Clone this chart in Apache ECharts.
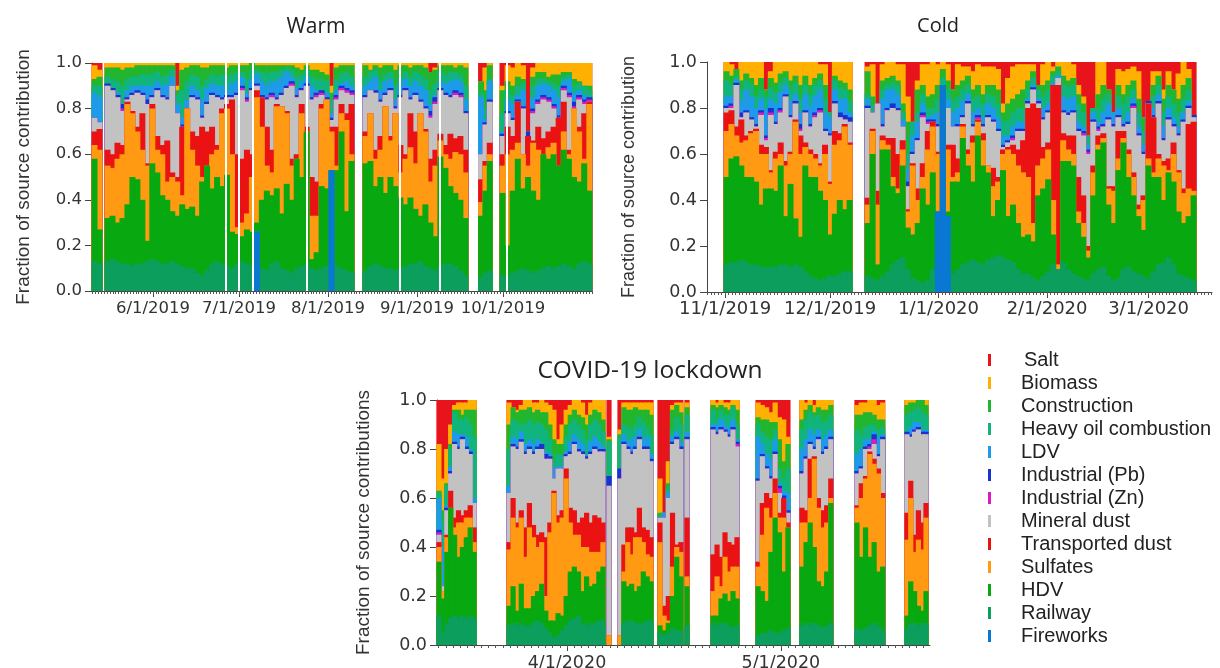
<!DOCTYPE html>
<html><head><meta charset="utf-8"><style>html,body{margin:0;padding:0;background:#fff}#c{width:1220px;height:668px;filter:blur(0.55px)}</style>
<script src="https://cdn.jsdelivr.net/npm/echarts@6/dist/echarts.min.js"></script></head><body><div id="c"></div>
<script>
const legendNames=['Salt','Biomass','Construction','Heavy oil combustion','LDV','Industrial (Pb)','Industrial (Zn)','Mineral dust','Transported dust','Sulfates','HDV','Railway','Fireworks'];
const seriesColors={'Salt':'#e8141c','Biomass':'#ffb000','Construction':'#22b52e','Heavy oil combustion':'#10b47c','LDV':'#1e9be8','Industrial (Pb)':'#1c2fd0','Industrial (Zn)':'#d81cc0','Mineral dust':'#c2c2c2','Transported dust':'#ea1212','Sulfates':'#ff9a12','HDV':'#08a810','Railway':'#0c9e5c','Fireworks':'#0a78d2'};

// ---- Warm ----
const warmSegments=[['2019-05-10T18:00','2019-05-14T06:00',2],['2019-05-15T07:00','2019-08-10T01:00',50],['2019-08-13T04:00','2019-09-18T18:00',21],['2019-09-22T14:00','2019-09-27T03:00',3],['2019-09-29T22:00','2019-10-31T23:00',18]];
const warmThinGaps=['2019-06-26T10:00','2019-07-01T00:00','2019-07-05T20:00','2019-07-24T16:00','2019-08-25T22:00','2019-09-08T19:00','2019-10-02T07:00'];
const warmTicks=['2019-06-01T00:00','2019-07-01T00:00','2019-08-01T00:00','2019-09-01T00:00','2019-10-01T00:00'];
const warmFireworks=[[32,26],[47,53]];
const warmRail=[13,12,
13,14,13,12,12,11,12,12,13,14,13,12,12,13,12,11,10,10,8,7,9,12,13,12,11,10,12,13,12,11,12,10,9,12,13,10,9,8,10,11,12,10,9,10,11,12,11,10,9,8,
9,11,12,11,10,10,9,10,11,12,12,13,11,10,9,11,12,12,11,9,7,
6,8,9,
7,6,8,9,10,9,8,9,10,11,10,11,12,11,10,12,13,12];
const warmHdv=[58,27,
32,33,30,32,38,50,49,40,22,56,52,42,40,35,33,38,36,37,33,48,62,45,50,46,51,26,25,24,27,26,30,40,44,42,45,34,47,40,64,50,70,14,17,46,45,42,53,70,35,57,
56,57,46,50,43,50,46,41,38,41,36,33,38,30,24,59,54,46,43,40,32,
33,44,57,
43,20,44,58,45,50,44,40,60,58,60,55,62,58,50,48,56,44];
const warmSulf=[64,62,
55,54,58,60,82,78,70,62,55,80,62,60,48,50,48,42,82,62,55,50,55,60,62,78,80,60,28,30,34,50,85,72,55,52,81,81,78,55,58,78,70,33,33,80,88,70,55,78,75,60,
68,78,58,62,81,66,78,52,58,63,56,78,70,48,55,66,60,58,61,60,52,
39,55,60,
55,60,62,65,82,55,65,62,60,63,65,55,70,60,82,70,58,82];
const warmTrans=[70,71,
62,60,65,64,83,79,72,78,56,82,68,64,66,52,50,83,84,70,68,72,70,72,64,80,82,84,60,58,62,60,88,85,72,62,82,81,79,58,60,82,72,50,48,82,90,72,72,82,78,82,
70,78,62,68,81,68,78,64,60,78,70,78,71,58,62,69,64,69,67,68,62,
49,57,65,
60,72,68,83,60,68,66,72,67,70,72,76,83,62,84,72,78,83];
const warmMineral=[76,74,
90,88,85,79,84,86,87,86,82,85,88,85,84,90,78,72,80,85,84,76,82,86,85,84,85,85,86,88,83,88,90,85,84,85,84,86,89,90,85,88,90,84,85,86,84,75,84,88,87,86,
85,88,87,83,86,88,80,85,88,84,86,83,80,76,82,88,86,85,86,85,78,
60,73,83,
68,78,75,83,80,73,78,82,84,83,80,76,88,85,80,84,82,83];
const warmZn=[0,0,
0,0,0,1,0,0,0,0,0,0,0,0,0,0,0,0,0,0,0,0,0,0,0,0,0,0,0,1,1,0,0,0,0,1,0,0,0,1,0,0,0,0,1,1,0,0,1,1,1,1,
0,0,0,0,0,0,0,0,0,0,0,0,0,1,1,0,0,0,1,1,0,
0,0,0,
0,0,0,0,0,0,1,1,1,1,1,0,1,1,1,1,1,1];
const warmPb=[0,0,
1,1,1,2,1,1,1,1,2,1,1,1,1,0,0,1,0,1,1,1,1,1,1,1,1,1,1,1,1,1,1,1,1,1,1,1,1,1,1,1,1,1,1,1,1,1,1,1,1,1,
1,0,1,1,1,1,1,1,1,1,1,1,1,2,2,1,1,1,1,1,1,
0,1,1,
1,1,1,1,1,2,1,1,1,1,1,1,1,1,2,1,1,1];
const warmLdv=[87,85,
91,88,87,82,88,90,90,90,90,90,92,90,91,94,82,76,84,90,88,84,89,91,90,90,88,91,92,94,87,93,95,92,90,92,92,94,96,94,89,92,94,90,88,88,87,78,88,91,92,90,
90,92,94,88,92,93,84,91,93,90,92,90,88,82,86,92,91,92,93,92,84,
85,75,92,
70,84,82,86,88,82,85,90,91,90,88,85,92,93,87,88,86,84];
const warmHeavy=[90,90,
94,93,92,90,93,94,94,95,95,95,96,94,95,97,86,88,92,95,94,90,93,95,94,95,94,95,96,96,93,97,97,96,95,96,96,97,98,97,94,95,97,94,93,93,92,84,93,95,96,94,
94,96,97,92,95,96,90,94,96,94,96,95,93,88,91,96,95,96,96,95,90,
87,80,93,
78,88,86,90,91,86,90,93,93,92,91,90,94,95,90,91,90,88];
const warmConstr=[93,94,
98,98,98,97,98,98,99,99,99,99,99,99,99,99,88,97,98,99,99,98,98,99,99,99,98,99,99,99,99,100,99,99,99,99,99,99,99,99,98,97,99,97,97,96,95,87,98,99,99,99,
99,97,99,98,99,99,97,99,99,98,99,99,98,96,97,99,99,99,98,99,98,
92,88,99,
88,92,90,94,93,91,94,96,96,94,95,95,96,96,93,92,90,90];
const warmBiomass=[99,97,
100,100,100,100,100,100,100,100,100,100,100,100,100,100,90,100,100,100,100,100,100,100,100,100,100,100,100,100,100,100,100,100,100,100,100,100,100,100,100,100,100,100,100,100,100,90,100,100,100,100,
100,100,100,100,100,100,100,100,100,100,100,100,100,96,98,100,100,100,100,100,100,
92,98,100,
90,99,98,100,99,68,98,100,100,100,100,100,100,100,100,100,100,100];

// ---- Cold ----
const coldSegments=[['2019-10-31T17:00','2019-12-07T07:00',26],['2019-12-11T00:00','2020-03-14T14:00',66]];
const coldTicks=['2019-11-01T00:00','2019-12-01T00:00','2020-01-01T00:00','2020-02-01T00:00','2020-03-01T00:00'];
const coldFireworks=[[40,35],[41,90],[42,33]];
const coldRail=[12,13,13,14,13,12,12,11,11,11,11,12,12,11,12,11,9,7,6,5,6,7,7,8,9,9,
7,6,5,7,9,12,14,15,10,6,5,4,5,10,0,0,0,8,10,12,13,14,13,12,14,15,16,15,14,13,10,8,8,6,5,7,9,12,14,13,10,8,7,6,5,8,10,11,7,5,6,10,11,9,8,7,6,9,12,13,15,12,8,7,6,5];
const coldHdv=[50,58,59,55,50,50,48,38,45,45,44,55,33,47,32,24,55,50,50,44,40,25,34,40,36,40,
30,60,12,62,62,46,43,55,28,25,30,45,38,52,35,90,35,48,48,67,55,48,68,55,52,33,40,53,33,38,30,24,25,22,42,45,49,25,10,57,57,55,30,24,15,42,62,65,38,30,53,65,50,42,33,27,55,50,50,40,52,48,35,30,33,42];
const coldSulf=[70,73,68,65,66,69,70,60,60,52,58,60,55,60,74,60,63,60,58,55,60,47,64,66,72,64,
38,70,38,66,64,50,45,62,35,55,40,50,62,72,60,60,62,50,52,72,60,65,74,66,55,46,48,60,62,60,55,52,50,30,55,58,62,40,12,66,62,60,35,30,18,52,64,67,45,44,58,67,60,50,36,40,58,52,58,55,53,60,52,43,45,44];
const coldTrans=[78,79,72,75,68,70,71,64,63,53,61,65,57,61,75,68,65,62,60,56,64,48,70,69,73,65,
41,71,44,68,67,67,60,66,36,56,45,56,70,75,61,62,64,64,58,73,62,68,75,69,55,54,50,62,63,64,62,66,80,82,80,63,65,90,90,69,68,68,50,42,20,55,68,69,46,46,70,70,62,52,38,42,85,80,60,57,58,65,53,45,73,74];
const coldMineral=[80,80,90,76,78,75,72,77,66,77,73,78,85,76,82,70,78,72,76,78,70,68,82,76,75,74,
80,78,90,72,79,80,79,72,46,60,66,76,73,74,72,85,80,72,72,76,82,72,75,72,76,74,70,63,65,66,70,70,82,88,82,75,78,90,93,78,77,78,70,68,60,74,70,72,75,72,76,72,73,80,68,60,87,76,82,66,75,72,68,74,80,77];
const coldZn=[0,1,0,0,0,0,0,1,1,1,0,1,0,0,0,1,0,0,1,1,0,0,0,0,0,0,
0,0,0,0,0,0,0,0,0,0,0,1,1,0,0,0,0,0,0,0,0,0,1,0,0,0,0,0,0,1,0,0,0,0,0,0,0,0,0,0,0,0,0,1,1,0,1,0,0,0,0,0,0,1,0,0,0,0,0,0,0,0,0,0,0,0];
const coldPb=[1,1,1,2,1,1,1,1,1,2,1,1,1,1,1,2,1,1,1,1,1,1,1,2,2,2,
1,0,0,1,1,2,1,0,2,1,1,1,1,1,1,1,0,0,1,1,1,1,1,1,1,1,1,1,1,1,1,1,1,1,1,1,1,0,0,1,1,1,1,1,1,1,1,1,1,1,1,1,1,1,1,1,1,1,1,1,1,1,1,1,1,1];
const coldLdv=[85,85,92,83,88,85,80,84,80,84,82,87,90,83,86,78,86,81,85,88,78,76,88,84,84,78,
84,78,90,84,88,88,86,75,54,68,74,82,76,77,78,90,84,78,80,83,86,78,80,76,82,80,76,68,68,72,74,74,84,90,84,80,82,91,94,85,84,85,74,72,64,78,74,78,82,82,80,75,78,84,72,64,89,80,86,72,80,76,72,78,83,80];
const coldHeavy=[92,90,94,88,92,90,85,88,85,89,87,91,93,88,91,84,90,86,90,92,84,80,92,89,88,83,
86,81,92,88,90,91,90,78,60,74,78,86,80,80,84,93,88,83,85,88,90,84,85,82,86,85,82,74,75,78,80,80,88,93,88,85,88,94,96,90,89,90,82,78,70,84,80,84,86,86,85,82,85,88,78,70,92,85,90,78,85,82,78,84,88,86];
const coldConstr=[96,94,97,92,95,93,90,93,90,93,91,95,96,92,94,90,94,90,93,95,90,86,94,92,91,88,
96,85,94,92,93,94,92,82,74,85,88,90,85,86,90,97,92,88,90,92,94,88,90,86,90,90,88,78,82,84,86,88,92,96,92,90,92,96,98,94,92,93,86,82,75,88,86,90,92,90,90,86,90,92,84,76,95,90,94,84,90,88,84,90,93,92];
const coldBiomass=[100,99,97,100,100,100,100,100,88,96,100,100,100,100,100,100,100,100,100,99,99,78,100,100,100,100,
98,99,82,99,100,100,99,99,85,74,92,99,99,100,99,100,99,88,99,98,98,96,99,98,98,98,97,82,93,98,99,99,99,99,90,99,100,98,100,100,100,99,90,85,68,80,100,100,88,78,97,96,97,98,96,76,82,96,96,88,96,88,95,100,97,76];

// ---- COVID-19 lockdown ----
const covidSegments=[['2020-03-13T18:30','2020-03-19T06:00',10],['2020-03-23T14:00','2020-04-06T08:00',24],['2020-04-06T15:00','2020-04-07T04:00',1],['2020-04-08T04:00','2020-04-13T01:30',9],['2020-04-13T18:00','2020-04-17T06:30',6],['2020-04-17T13:00','2020-04-18T03:00',1],['2020-04-21T05:00','2020-04-25T03:00',7],['2020-04-27T12:00','2020-05-02T07:00',8],['2020-05-03T16:00','2020-05-08T07:00',8],['2020-05-11T09:00','2020-05-15T14:00',7],['2020-05-18T10:00','2020-05-21T15:00',6]];
const covidTicks=['2020-04-01T00:00','2020-05-01T00:00'];
const covidFireworks=[];
const covidRail=[12,5,9,11,12,11,12,11,12,11,
8,9,8,9,8,8,9,10,9,7,5,3,4,6,8,10,11,12,9,8,9,9,10,10,
0,
0,9,10,10,9,9,9,10,10,
5,4,5,7,6,6,
8,
9,8,9,9,8,7,8,
4,5,5,6,5,5,6,7,
8,9,8,9,8,7,8,9,
7,6,7,8,9,8,6,
7,9,9,8,9,9];
const covidHdv=[34,19,38,56,45,36,40,44,48,38,
16,24,14,25,15,15,20,22,25,14,10,10,13,12,20,30,32,30,22,28,24,25,30,32,
0,
0,26,24,25,22,24,30,28,26,
8,6,9,20,36,28,
24,
12,12,19,21,18,22,19,
24,22,18,38,52,46,30,48,
32,42,50,40,26,24,30,58,
50,36,48,36,42,30,32,
12,26,22,16,14,22];
const covidSulf=[40,22,44,56,48,50,50,52,52,42,
39,52,48,52,36,48,44,40,42,20,46,62,50,52,68,50,45,45,40,40,38,38,38,42,
4,
4,30,42,37,44,44,42,37,36,
42,12,10,32,40,38,
28,
22,28,24,36,30,32,32,
32,45,56,52,62,52,52,48,
50,50,60,76,56,48,50,60,
56,60,68,78,74,70,60,
43,60,38,43,39,52];
const covidTrans=[42,22,45,63,52,55,53,55,57,48,
42,60,50,55,48,58,49,45,46,44,50,63,53,55,72,56,55,50,52,54,50,53,52,50,
4,
4,41,48,48,46,56,48,47,44,
50,16,20,54,41,42,
52,
37,41,36,46,42,41,44,
34,58,62,60,68,54,64,50,
56,55,76,77,60,55,57,68,
57,66,69,79,76,72,62,
54,67,45,55,50,58];
const covidMineral=[45,24,55,70,82,80,84,80,78,58,
62,81,80,83,78,80,78,80,80,76,76,68,72,72,77,78,82,79,78,76,78,80,79,79,
65,
68,82,80,78,80,84,80,80,75,
52,52,60,82,84,80,
84,
88,86,88,87,85,88,81,
67,77,72,68,78,62,60,54,
70,76,82,80,84,78,80,84,
70,72,80,80,82,77,84,
86,85,87,88,86,86];
const covidZn=[1,0,0,0,0,0,0,0,0,0,
0,0,0,0,0,0,0,0,0,0,0,0,0,0,0,0,0,0,0,0,0,0,0,0,
0,
0,0,0,0,0,0,0,0,0,
0,0,0,0,0,0,
0,
0,0,0,0,0,0,1,
0,0,0,0,0,2,0,0,
0,0,0,0,0,0,0,0,
0,0,0,1,2,0,0,
0,0,0,0,0,0];
const covidPb=[1,0,1,1,1,1,1,1,1,0,
0,1,1,1,1,1,1,1,2,2,1,0,0,0,1,1,1,1,1,1,1,1,1,1,
4,
4,1,1,1,1,1,1,1,1,
0,0,0,1,1,1,
1,
1,1,1,1,1,1,1,
1,1,1,1,1,1,1,1,
1,1,1,1,1,1,1,1,
1,1,1,1,2,1,1,
1,1,1,1,1,1];
const covidLdv=[60,40,57,73,87,86,86,85,80,60,
65,85,84,87,82,84,82,84,82,79,78,72,73,73,79,83,86,84,82,78,83,85,83,81,
69,
72,86,83,84,85,88,84,85,78,
52,54,62,85,87,83,
87,
90,90,92,90,89,92,84,
85,82,78,76,84,66,63,62,
80,84,88,86,88,84,86,88,
78,80,84,84,87,85,86,
87,89,91,91,88,88];
const covidHeavy=[62,50,65,80,95,92,92,93,90,85,
80,92,91,90,90,92,90,91,90,88,84,75,78,78,85,90,92,90,88,84,90,92,90,87,
83,
85,90,89,88,90,93,91,89,86,
53,54,64,88,93,90,
94,
96,93,96,94,94,97,90,
90,87,85,84,88,72,68,72,
88,92,95,93,94,91,92,94,
88,86,89,90,90,88,89,
94,95,96,97,95,94];
const covidConstr=[63,55,66,82,96,96,94,96,96,96,
90,97,95,96,96,97,95,96,95,95,90,84,82,82,90,94,96,94,93,90,94,96,95,92,
84,
86,97,96,96,97,96,96,96,94,
54,54,66,96,98,95,
97,
98,97,98,97,96,98,96,
93,92,92,91,91,84,75,82,
92,96,98,95,97,96,96,98,
94,94,95,95,94,92,92,
98,99,99,100,100,98];
const covidBiomass=[82,68,80,90,98,99,99,99,100,100,
99,97,96,98,100,100,99,99,100,99,98,96,84,90,96,98,100,100,99,94,99,100,100,100,
85,
88,99,99,99,99,99,99,99,99,
68,54,75,98,99,99,
99,
100,99,100,99,99,100,100,
99,98,97,95,99,93,92,85,
100,99,100,98,100,100,100,100,
98,99,99,100,100,98,99,
100,100,100,100,100,100];

const panels=[
{key:'warm',title:'Warm',titleSize:21,titleX:316,titleY:17,yName:'Fraction of source contribution',nameSize:19,nameGap:59,tickSize:16.5,dateSize:16.5,dateMargin:9,grid:{left:92,top:63,width:500,height:228,outerBoundsMode:'none'},
 min:'2019-05-10T18:00',max:'2019-11-01T00:00',segs:warmSegments,ticks:warmTicks,thin:warmThinGaps,bw:6,fw:warmFireworks,
 t:[warmRail,warmHdv,warmSulf,warmTrans,warmMineral,warmLdv,warmHeavy,warmConstr,warmBiomass],zn:warmZn,pb:warmPb},
{key:'cold',title:'Cold',titleSize:20,titleX:938,titleY:16,yName:'Fraction of source contribution',nameSize:18,nameGap:69,tickSize:17.5,dateSize:18,dateMargin:8,grid:{left:707,top:62,width:505,height:230,outerBoundsMode:'none'},
 min:'2019-10-26T20:00',max:'2020-03-19T03:00',segs:coldSegments,ticks:coldTicks,thin:[],bw:6,fw:coldFireworks,
 t:[coldRail,coldHdv,coldSulf,coldTrans,coldMineral,coldLdv,coldHeavy,coldConstr,coldBiomass],zn:coldZn,pb:coldPb},
{key:'covid',title:'COVID-19 lockdown',titleSize:24.5,titleX:650,titleY:359,yName:'Fraction of source contributions',nameSize:19,nameGap:64,tickSize:17.5,dateSize:17.5,dateMargin:9,grid:{left:437,top:400,width:493,height:245,outerBoundsMode:'none'},
 min:'2020-03-13T18:30',max:'2020-05-21T22:00',segs:covidSegments,ticks:covidTicks,thin:[],bw:5.2,fw:covidFireworks,
 t:[covidRail,covidHdv,covidSulf,covidTrans,covidMineral,covidLdv,covidHeavy,covidConstr,covidBiomass],zn:covidZn,pb:covidPb}
];
const ms=s=>new Date(s).getTime();
const fmtDate=v=>{const d=new Date(v);return (d.getMonth()+1)+'/'+d.getDate()+'/'+d.getFullYear();};
const stackOrder=['Fireworks','Railway','HDV','Sulfates','Transported dust','Mineral dust','Industrial (Zn)','Industrial (Pb)','LDV','Heavy oil combustion','Construction','Biomass','Salt'];

const option={animation:false,backgroundColor:'#fff',
 title:[],grid:[],xAxis:[],yAxis:[],series:[],
 legend:{orient:'vertical',left:988,top:350,padding:0,itemWidth:3,itemHeight:12,itemGap:3,icon:'rect',selectedMode:false,
  textStyle:{fontFamily:'Liberation Sans',fontSize:20,color:'#222',padding:[0,0,0,25]},
  data:legendNames.map(n=>n==='Salt'?{name:n,textStyle:{padding:[0,0,0,28]}}:{name:n})}};

panels.forEach((p,pi)=>{
 option.title.push({text:p.title,left:p.titleX,top:p.titleY,padding:0,textAlign:'center',textStyle:{fontFamily:'Open Sans',fontSize:p.titleSize,fontWeight:'normal',color:'#222'}});
 option.grid.push(p.grid);
 const axBase={type:'value',gridIndex:pi,min:ms(p.min),max:ms(p.max),position:'bottom',splitLine:{show:false}};
 const majors=p.ticks.map(ms);
 option.xAxis.push(Object.assign({},axBase,{
  axisLine:{show:true,onZero:false,lineStyle:{color:'#444',width:1}},
  axisTick:{show:true,length:6,lineStyle:{color:'#444'},customValues:majors},
  axisLabel:{show:true,hideOverlap:false,margin:p.dateMargin,customValues:majors,formatter:v=>fmtDate(v),fontFamily:'DejaVu Sans',fontSize:p.dateSize,color:'#333'}}));
 const dayTicks=[];
 for(let d=new Date(ms(p.min));d.getTime()<=ms(p.max);d=new Date(d.getFullYear(),d.getMonth(),d.getDate()+1,0,0)){
  const t=new Date(d.getFullYear(),d.getMonth(),d.getDate()+1,0,0).getTime();
  if(t<=ms(p.max))dayTicks.push(t);
 }
 option.xAxis.push(Object.assign({},axBase,{
  axisLine:{show:false},axisLabel:{show:false},
  axisTick:{show:true,length:3,lineStyle:{color:'#555'},customValues:dayTicks}}));
 option.yAxis.push({type:'value',gridIndex:pi,min:0,max:1,interval:0.2,name:p.yName,nameLocation:'middle',nameGap:p.nameGap,
  nameTextStyle:{fontFamily:'Liberation Sans',fontSize:p.nameSize,color:'#333'},
  axisLine:{show:true,lineStyle:{color:'#444',width:1}},axisTick:{show:true,length:7,lineStyle:{color:'#444'}},splitLine:{show:false},
  axisLabel:{margin:10,formatter:v=>v.toFixed(1),fontFamily:'DejaVu Sans',fontSize:p.tickSize,color:'#333'}});

 // column dates from the sampling segments
 const xs=[];
 p.segs.forEach(([a,b,n])=>{const s=ms(a),e=ms(b);for(let i=0;i<n;i++)xs.push(s+(i+0.5)*(e-s)/n);});
 const fwMap=new Map(p.fw);
 const cols={};stackOrder.forEach(n=>cols[n]=[]);
 xs.forEach((x,i)=>{
  const tops=p.t.map(a=>a[i]);
  let cap=100;
  for(let k=tops.length-1;k>=0;k--){tops[k]=Math.min(tops[k],cap);cap=tops[k];}
  const [rail,hdv,sulf,trans,mineral,ldv,heavy,constr,bio]=tops;
  const fw=fwMap.get(i)||0;
  let prev=fw;
  // each series carries the running total of the stack; the layers overlap from the top down
  const add=(n,top)=>{prev=Math.max(prev,top);cols[n].push([x,prev/100]);};
  cols['Fireworks'].push([x,fw/100]);
  add('Railway',rail);add('HDV',hdv);add('Sulfates',sulf);add('Transported dust',trans);add('Mineral dust',mineral);
  add('Industrial (Zn)',mineral+p.zn[i]);add('Industrial (Pb)',mineral+p.zn[i]+p.pb[i]);
  add('LDV',ldv);add('Heavy oil combustion',heavy);add('Construction',constr);add('Biomass',bio);add('Salt',100);
 });
 stackOrder.slice().reverse().forEach((n,si)=>{
  const s={name:n,type:'bar',xAxisIndex:pi*2,yAxisIndex:pi,barWidth:p.bw,barGap:'-100%',data:cols[n],
   itemStyle:{color:seriesColors[n]},silent:true};
  if(si===12&&p.thin.length){s.markLine={silent:true,symbol:'none',label:{show:false},animation:false,
    lineStyle:{color:'#fff',width:2,type:'solid'},data:p.thin.map(d=>({xAxis:ms(d)}))};}
  option.series.push(s);
 });
});
echarts.init(document.getElementById('c'),null,{renderer:'canvas'}).setOption(option);
</script></body></html>
